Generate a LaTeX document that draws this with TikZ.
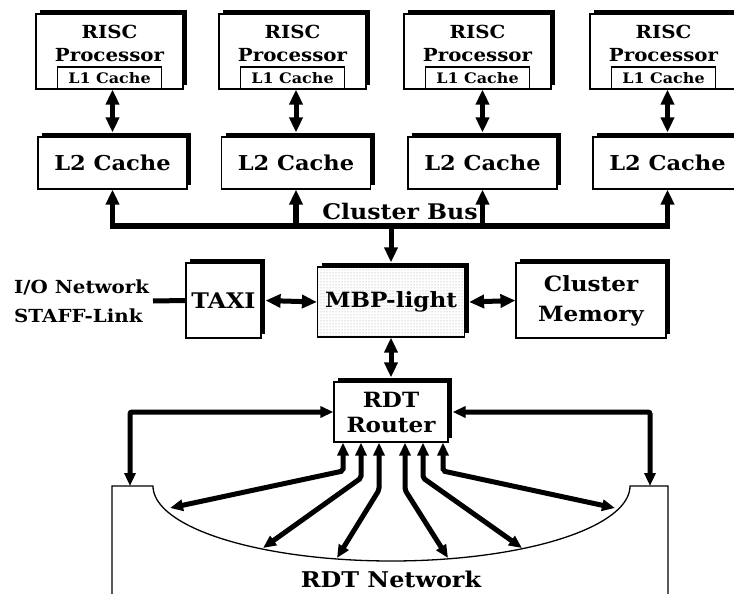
\documentclass[tikz,border=0pt]{standalone}
\usepackage{fontspec}
\setmainfont{DejaVu Serif}[FakeStretch=1.1]
\usetikzlibrary{arrows.meta,shadows,patterns}

% bold serif text at a given pixel size
\newcommand\setfs[2]{\fontsize{#1}{#2}\selectfont\bfseries}

\tikzset{
  box/.style={draw, line width=1.2pt, fill=white, inner sep=0pt,
    drop shadow={shadow xshift=4pt, shadow yshift=4pt, fill=black, opacity=1}},
  l1box/.style={draw, line width=1.2pt, fill=white, inner sep=0pt,
    minimum width=104pt, minimum height=22pt, font=\setfs{14.5}{15}},
  lbl/.style={inner sep=0pt, align=center},
  link/.style={line width=5pt, >={Triangle[width=13pt,length=15pt]}},
  rlink/.style={line width=5pt, rounded corners=2pt, >={Triangle[width=11pt,length=13pt]}},
}

\begin{document}
\begin{tikzpicture}[x=1pt, y=-1pt]
\useasboundingbox (0,0) rectangle (734,594);

% processors, first and second level caches
\foreach \i/\rx/\lx in {1/109.5/112.5, 2/292.5/296, 3/477.5/482.5, 4/663.5/667.5}{
  \node[box, minimum width=147pt, minimum height=75pt] (r\i) at (\rx,51.5) {};
  \node[lbl, font=\setfs{18}{23}] (rt\i) at (\rx,43) {RISC\\Processor};
  \node[l1box] (c\i) at (\rx,78) {L1 Cache};
  \node[box, minimum width=149pt, minimum height=52pt, font=\setfs{20.5}{25}] (l\i) at (\lx,163) {L2 Cache};
  \draw[link, <->] (c\i.south -| l\i.north) -- ([yshift=4pt]l\i.north);
}

% cluster bus
\coordinate (bus) at (391,226);
\draw[link, <->, line width=5.5pt] (l1.south) -- (l1.south |- bus) -- (l4.south |- bus) -- (l4.south);
\draw[link, ->, line width=5.5pt] (l2.south |- bus) -- (l2.south);
\draw[link, ->, line width=5.5pt] (l3.south |- bus) -- (l3.south);
\node[lbl, font=\setfs{21.5}{25}] (busname) at (400,211) {Cluster Bus};

% node controller row
\node[box, minimum width=147pt, minimum height=70pt, font=\setfs{21}{28},
  preaction={fill=white}, pattern=dots, pattern color=gray!80] (mbp) at (391,302) {MBP-light};
\node[box, minimum width=75pt, minimum height=75pt, font=\setfs{21.5}{28}] (taxi) at (223.5,300.5) {TAXI};
\node[box, minimum width=150pt, minimum height=75pt, align=center, font=\setfs{21}{30}] (mem) at (591,300.5) {Cluster\\Memory};
\node[lbl, align=left, anchor=west, font=\setfs{18}{29}] (io) at (14,301) {I/O Network\\STAFF-Link};
\coordinate (ioend) at (153,301);

\draw[link, ->] (bus) -- ([yshift=4pt]mbp.north);
\draw[link, <->] ([xshift=4pt]taxi.east) -- (mbp.west);
\draw[link, <->] ([xshift=4pt]mbp.east) -- (mem.west);
\draw[line width=5pt] (ioend) -- (taxi.west);

% router
\node[box, minimum width=114pt, minimum height=60pt, align=center, font=\setfs{21}{25}] (rdt) at (391,412) {RDT\\Router};
\draw[link, <->] (mbp.south) -- ([yshift=4pt]rdt.north);

% RDT network outline
\coordinate (pl) at (130,486);
\coordinate (pr) at (650,486);
\draw[line width=1.3pt] (112,600) -- (112,486) -- (153,486)
  -- plot[domain=180:360, samples=90, smooth] ({391.5+238.5*cos(\x)}, {486-75*sin(\x)})
  -- (668,486) -- (668,600);
\node[lbl, font=\setfs{21.7}{25}] (net) at (391,579) {RDT Network};

% links from the router to the network
\draw[rlink, <->] (rdt.west) -- (pl |- rdt.west) -- (pl);
\draw[rlink, <->] ([xshift=4pt]rdt.east) -- (pr |- rdt.east) -- (pr);
\foreach \n/\bx/\by/\tx/\ty in {1/343/471/170/508, 2/361/478/263/548, 3/379/490/337/558,
                                4/405/490/448/558, 5/423/478/522/548, 6/443/471/615/508}{
  \coordinate (t\n) at (\tx,\ty);
  \coordinate (b\n) at (\bx,\by);
  \draw[rlink, <->] (rdt.south -| b\n) -- (b\n) -- (t\n);
}
\end{tikzpicture}
\end{document}
